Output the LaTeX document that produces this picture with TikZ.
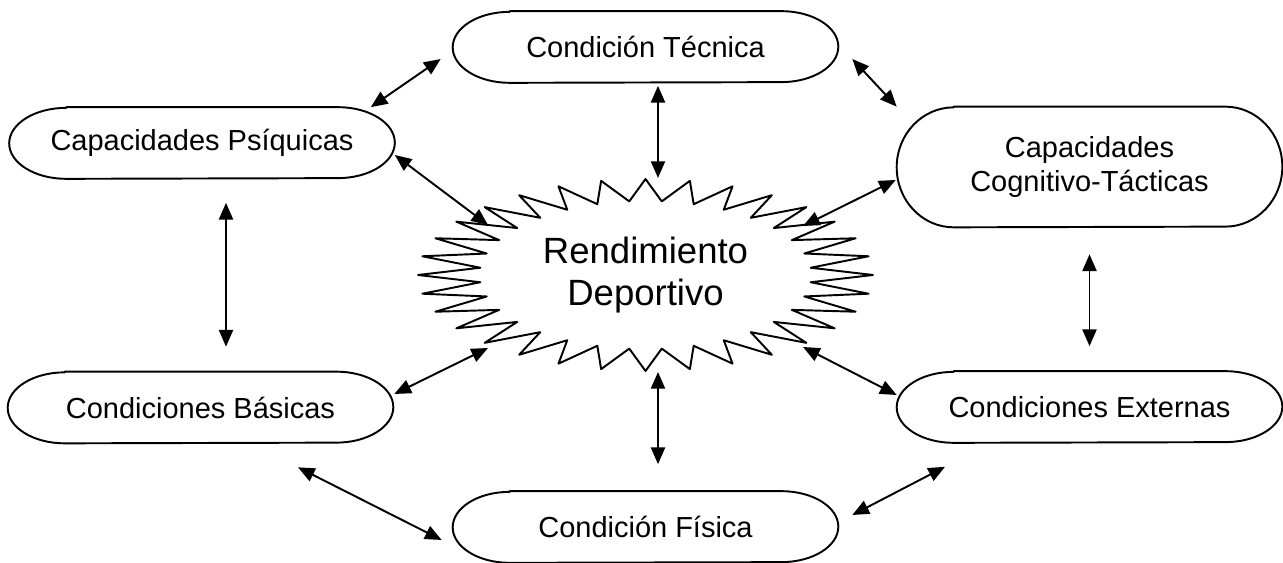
\documentclass[tikz,border=0pt]{standalone}
\usepackage{fontspec}
\setmainfont{Liberation Sans}
\usetikzlibrary{arrows.meta, calc}

\tikzset{
    box/.style={minimum width=7.7cm, minimum height=1.42cm, inner sep=0pt, align=center, font=\fontsize{16.5}{19}\selectfont},
    arr/.style={{Triangle[length=9.5pt,width=8pt]}-{Triangle[length=9.5pt,width=8pt]}, line width=1.1pt},
    outline/.style={line width=1.1pt, line join=round},
}

% contorno a capsula: nome del nodo, semi-altezza
\newcommand{\capsule}[2]{%
    \draw[outline] ([xshift=1.14cm]#1.north west) -- ([xshift=-1.14cm]#1.north east)
        arc[start angle=90, end angle=-90, x radius=1.14cm, y radius=#2]
        -- ([xshift=1.14cm]#1.south west)
        arc[start angle=270, end angle=90, x radius=1.14cm, y radius=#2] -- cycle;}

\begin{document}
\begin{tikzpicture}[x=0.02cm, y=0.02cm]
    \useasboundingbox (0,0) rectangle (1283,563);

    % Nodo centrale
    \node[font=\fontsize{20.8}{23.7}\selectfont, align=center, inner sep=0pt] (rend) at (645.5,288) {Rendimiento\\Deportivo};
    \foreach \k in {0,...,63} {
        \pgfmathsetmacro{\rx}{ifthenelse(mod(\k,2)==0,4.55,3.32)}
        \pgfmathsetmacro{\ry}{ifthenelse(mod(\k,2)==0,1.92,1.48)}
        \coordinate (sb-\k) at ($(rend.center)+({90-\k*5.625}:\rx cm and \ry cm)$);
    }
    \draw[outline] (sb-0) \foreach \k in {1,...,63} {-- (sb-\k)} -- cycle;

    % Fattori intorno
    \node[box] (tec) at (645.5,516) {Condición Técnica};
    \node[box] (psi) at (202,420) {Capacidades Psíquicas};
    \node[box, minimum height=2.4cm] (cog) at (1089.5,396) {Capacidades\\Cognitivo-Tácticas};
    \node[box] (bas) at (200.5,155.5) {Condiciones Básicas};
    \node[box] (ext) at (1089.5,156) {Condiciones Externas};
    \node[box] (fis) at (645.5,36) {Condición Física};

    \capsule{tec}{0.71cm}
    \capsule{psi}{0.71cm}
    \capsule{cog}{1.2cm}
    \capsule{bas}{0.71cm}
    \capsule{ext}{0.71cm}
    \capsule{fis}{0.71cm}

    % Connessioni
    \draw[arr] ([shift={(-12,-12)}]tec.west) -- ([shift={(-24,0)}]psi.north east);
    \draw[arr] ([shift={(14,-12)}]tec.east) -- (cog.north west);
    \draw[arr] ([shift={(12.5,-3)}]tec.south) -- ([shift={(12.5,97)}]rend.center);
    \draw[arr] ([shift={(0,-12)}]psi.east) -- ([shift={(-157.5,50)}]rend.center);
    \draw[arr] ([shift={(-1,-13)}]cog.west) -- ([shift={(157.5,49)}]rend.center);
    \draw[arr] ([shift={(24,-24)}]psi.south) -- ([shift={(25.5,25)}]bas.north);
    \draw[arr] ([shift={(0,-27)}]cog.south) -- ([shift={(0,25)}]ext.north);
    \draw[arr] ([shift={(1,13.5)}]bas.east) -- ([shift={(-157.5,-73)}]rend.center);
    \draw[arr] ([shift={(0,12)}]ext.west) -- ([shift={(157.5,-72)}]rend.center);
    \draw[arr] ([shift={(12.5,-97)}]rend.center) -- ([shift={(12.5,27)}]fis.north);
    \draw[arr] ([shift={(97.5,-24)}]bas.south) -- ([shift={(-11,-13)}]fis.west);
    \draw[arr] ([shift={(-144.5,-24)}]ext.south) -- ([shift={(14,12)}]fis.east);
\end{tikzpicture}
\end{document}
